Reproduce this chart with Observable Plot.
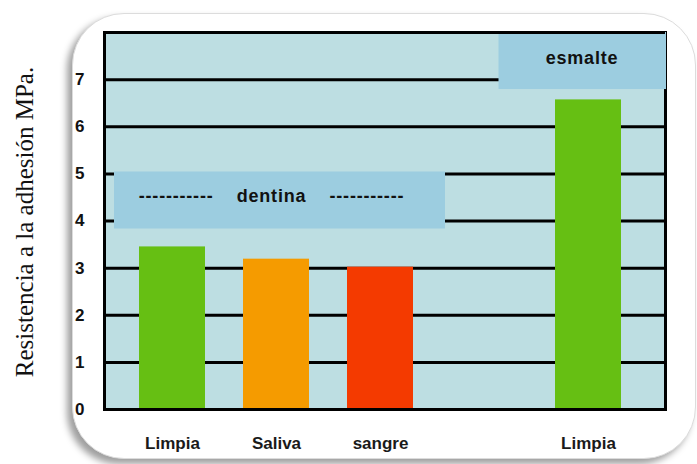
<!DOCTYPE html>
<html><head><meta charset="utf-8">
<script src="https://cdn.jsdelivr.net/npm/d3@7"></script>
<script src="https://cdn.jsdelivr.net/npm/@observablehq/plot@0.6"></script>
<style>
body{margin:0;background:#fff;}
#wrap{position:relative;width:697px;height:464px;overflow:hidden;}
#card{position:absolute;left:72px;top:13px;width:622px;height:444px;border-radius:52px;background:#fff;box-shadow:-5px 5px 7px rgba(0,0,0,0.38);border:1px solid #dcdcdc;}
#chart{position:absolute;left:0;top:0;}
</style></head><body>
<div id="wrap"><div id="card"></div><div id="chart"></div></div>
<script>
// ---- data ----
const categories = ["Limpia", "Saliva", "sangre", "Limpia"];
const groups = ["dentina", "dentina", "dentina", "esmalte"];
const values = [3.45, 3.19, 3.02, 6.57];
const barColors = ["#66bf13", "#f59b00", "#f43a00", "#66bf13"];
const yTicks = [0, 1, 2, 3, 4, 5, 6, 7];
const yMax = 8;
const boxGroups = ["dentina", "esmalte"];
const boxLabels = ["-----------\u00a0\u00a0\u00a0\u00a0dentina\u00a0\u00a0\u00a0\u00a0-----------", "esmalte"];
const boxLow = [3.83, 6.79];
const boxHigh = [5.04, 8];
const yLabel = "Resistencia a la adhesión MPa.";

// ---- build tables ----
const bars = categories.map((c, i) => ({key: groups[i] + ":" + i, label: c, group: groups[i], value: values[i], color: barColors[i]}));
const domain = [];
bars.forEach((b, i) => {
  if (i > 0 && bars[i - 1].group !== b.group) domain.push("gap");
  domain.push(b.key);
});
const labelOf = Object.fromEntries(bars.map(b => [b.key, b.label]));
const boxes = boxGroups.map((g, i) => {
  const ks = bars.filter(b => b.group === g).map(b => b.key);
  return {group: g, anchor: ks[Math.floor(ks.length / 2)], low: boxLow[i], high: boxHigh[i], mid: (boxLow[i] + boxHigh[i]) / 2, label: boxLabels[i]};
});
const boxFill = "#9ccde0";

const chart = Plot.plot({
  width: 697, height: 464,
  marginLeft: 104, marginRight: 32, marginTop: 32, marginBottom: 55,
  style: {background: "transparent", fontFamily: "'Liberation Sans', Arial, sans-serif", overflow: "visible"},
  x: {type: "band", domain, paddingInner: 0.367, paddingOuter: 0.3755, align: 0.444},
  y: {domain: [0, yMax]},
  marks: [
    Plot.frame({fill: "#bddee2"}),
    Plot.ruleY(yTicks.filter(d => d > 0), {stroke: "#000", strokeWidth: 3}),
    Plot.frame({stroke: "#000", strokeWidth: 3}),
    Plot.barY(boxes.filter(b => b.group === "dentina"), {x: "anchor", y1: "low", y2: "high", fill: boxFill, insetLeft: -129, insetRight: -136}),
    Plot.barY(boxes.filter(b => b.group === "esmalte"), {x: "anchor", y1: "low", y2: "high", fill: boxFill, insetLeft: -56.5, insetRight: -45}),
    Plot.ruleY([yMax], {stroke: "#000", strokeWidth: 3}),
    Plot.barY(bars, {x: "key", y: "value", fill: "color"}),
    Plot.ruleY([0], {stroke: "#000", strokeWidth: 3}),
    Plot.text(boxes.filter(b => b.group === "dentina"), {x: "anchor", y: "mid", text: "label", dx: -5, dy: -4, fontSize: 18, fontWeight: "bold", fill: "#111"}),
    Plot.text(boxes.filter(b => b.group === "esmalte"), {x: "anchor", y: "mid", text: "label", dx: -6.5, dy: -3, fontSize: 18, fontWeight: "bold", fill: "#111"}),
    Plot.axisY(yTicks, {tickSize: 0, tickPadding: 20, fontSize: 17, fontWeight: "bold", fill: "#111", label: null}),
    Plot.axisX(bars.map(b => b.key), {tickSize: 0, tickPadding: 27, tickFormat: k => labelOf[k], fontSize: 17, fontWeight: "bold", fill: "#1a1a1a", label: null}),
    Plot.text([yLabel], {frameAnchor: "left", textAnchor: "middle", rotate: -90, dx: -80, dy: 1, fontSize: 25, fontFamily: "'Liberation Serif', 'Times New Roman', serif", fill: "#111"})
  ]
});
// slightly widen letter spacing of the annotation labels
d3.select(chart).selectAll("text")
  .filter(function () { return boxLabels.includes(this.textContent); })
  .attr("letter-spacing", 0.8);
document.getElementById("chart").appendChild(chart);
</script>
</body></html>
